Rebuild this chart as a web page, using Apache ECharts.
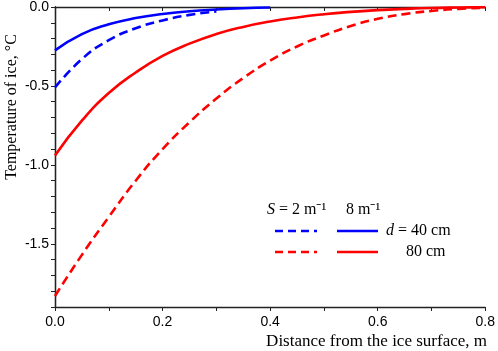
<!DOCTYPE html>
<html>
<head>
<meta charset="utf-8">
<script src="https://cdn.jsdelivr.net/npm/echarts@6/dist/echarts.min.js"></script>
<style>
  html, body { margin: 0; padding: 0; background: #fff; }
  #chart { width: 498px; height: 351px; }
</style>
</head>
<body>
<div id="chart"></div>
<script>
// distance from the ice surface, m
const distance = [0, 0.05, 0.1, 0.15, 0.2, 0.25, 0.3, 0.35, 0.4, 0.45, 0.5, 0.55, 0.6, 0.65, 0.7, 0.75, 0.8]

// temperature of ice, °C (d = 40 cm)
const s2d40 = [-0.51, -0.33, -0.21, -0.135, -0.085, -0.05, -0.028]
const s8d40 = [-0.275, -0.172, -0.11, -0.07, -0.044, -0.027, -0.016, -0.008, -0.003]

// temperature of ice, °C (d = 80 cm)
const s2d80 = [-1.83, -1.57, -1.33, -1.1, -0.9, -0.73, -0.58, -0.45, -0.34, -0.25, -0.18, -0.12, -0.075, -0.045, -0.025, -0.012, -0.005]
const s8d80 = [-0.94, -0.72, -0.545, -0.415, -0.31, -0.232, -0.171, -0.126, -0.092, -0.066, -0.046, -0.031, -0.02, -0.012, -0.006, -0.003, -0.001]

const yTicks = [0, -0.5, -1.0, -1.5]
const xTicks = [0, 0.2, 0.4, 0.6, 0.8]

const pairs = vals => vals.map((v, i) => [distance[i], v])

const isTick = (list, v) => list.some(t => Math.abs(t - v) < 1e-6)

const serif = '"Liberation Serif", "Times New Roman", serif'
const sans = '"Liberation Sans", Arial, sans-serif'
const axisColor = '#222'

const lineSeries = (name, vals, color, dashed) => ({
  name,
  type: 'line',
  data: pairs(vals),
  smooth: true,
  showSymbol: false,
  lineStyle: { color, width: 2.6, type: dashed ? [9, 5] : 'solid' },
  z: 3
})

const frameAxis = extra => Object.assign({
  type: 'value',
  axisLine: { show: true, lineStyle: { color: axisColor, width: 1.3 } },
  axisTick: { show: true, inside: true, length: 4, lineStyle: { color: axisColor } },
  axisLabel: { show: false },
  splitLine: { show: false }
}, extra)

const chart = echarts.init(document.getElementById('chart'))

chart.setOption({
  animation: false,
  grid: { left: 55, right: 11, top: 7, bottom: 44 },
  xAxis: [
    {
      type: 'value',
      min: 0,
      max: 0.8,
      interval: 0.1,
      axisLine: { show: true, onZero: false, lineStyle: { color: axisColor, width: 1.3 } },
      axisTick: { show: true, length: 4, lineStyle: { color: axisColor } },
      axisLabel: {
        margin: 8,
        color: '#000',
        fontFamily: sans,
        fontSize: 14,
        formatter: v => isTick(xTicks, v) ? v.toFixed(1) : ''
      },
      splitLine: { show: false }
    },
    frameAxis({ position: 'top', min: 0, max: 0.8, interval: 0.1 })
  ],
  yAxis: [
    {
      type: 'value',
      min: -1.9,
      max: 0,
      interval: 0.1,
      axisLine: { show: true, onZero: false, lineStyle: { color: axisColor, width: 1.3 } },
      axisTick: { show: true, length: 4, lineStyle: { color: axisColor } },
      axisLabel: {
        margin: 6,
        color: '#000',
        fontFamily: sans,
        fontSize: 14,
        formatter: v => isTick(yTicks, v) ? (Math.abs(v) < 1e-9 ? '0.0' : v.toFixed(1)) : ''
      },
      splitLine: { show: false }
    },
    frameAxis({ position: 'right', min: -1.9, max: 0, interval: 0.1 })
  ],
  series: [
    lineSeries('S = 2, d = 40', s2d40, '#0000ff', true),
    lineSeries('S = 8, d = 40', s8d40, '#0000ff', false),
    lineSeries('S = 2, d = 80', s2d80, '#ff0000', true),
    lineSeries('S = 8, d = 80', s8d80, '#ff0000', false)
  ],
  graphic: [
    {
      type: 'text',
      x: 12,
      y: 107,
      rotation: Math.PI / 2,
      style: {
        text: 'Temperature of ice, °C',
        font: '16px ' + serif,
        fill: '#000',
        align: 'center',
        verticalAlign: 'middle'
      }
    },
    {
      type: 'text',
      x: 487,
      y: 342,
      style: {
        text: 'Distance from the ice surface, m',
        font: '17px ' + serif,
        fill: '#000',
        align: 'right',
        verticalAlign: 'middle'
      }
    },
    // legend block
    {
      type: 'text',
      x: 267,
      y: 210,
      style: {
        text: '{i|S} = 2 m⁻¹',
        font: '16px ' + serif,
        fill: '#000',
        verticalAlign: 'middle',
        rich: { i: { fontStyle: 'italic', fontFamily: serif, fontSize: 16 } }
      }
    },
    {
      type: 'text',
      x: 346,
      y: 210,
      style: { text: '8 m⁻¹', font: '16px ' + serif, fill: '#000', verticalAlign: 'middle' }
    },
    {
      type: 'line',
      shape: { x1: 275, y1: 231, x2: 317, y2: 231 },
      style: { stroke: '#0000ff', lineWidth: 2.6, lineDash: [8, 5] }
    },
    {
      type: 'line',
      shape: { x1: 337, y1: 231, x2: 378, y2: 231 },
      style: { stroke: '#0000ff', lineWidth: 2.6 }
    },
    {
      type: 'line',
      shape: { x1: 275, y1: 252, x2: 317, y2: 252 },
      style: { stroke: '#ff0000', lineWidth: 2.6, lineDash: [8, 5] }
    },
    {
      type: 'line',
      shape: { x1: 337, y1: 252, x2: 378, y2: 252 },
      style: { stroke: '#ff0000', lineWidth: 2.6 }
    },
    {
      type: 'text',
      x: 386,
      y: 231,
      style: {
        text: '{i|d} = 40 cm',
        font: '16px ' + serif,
        fill: '#000',
        verticalAlign: 'middle',
        rich: { i: { fontStyle: 'italic', fontFamily: serif, fontSize: 16 } }
      }
    },
    {
      type: 'text',
      x: 406,
      y: 252,
      style: { text: '80 cm', font: '16px ' + serif, fill: '#000', verticalAlign: 'middle' }
    }
  ]
})
</script>
</body>
</html>
